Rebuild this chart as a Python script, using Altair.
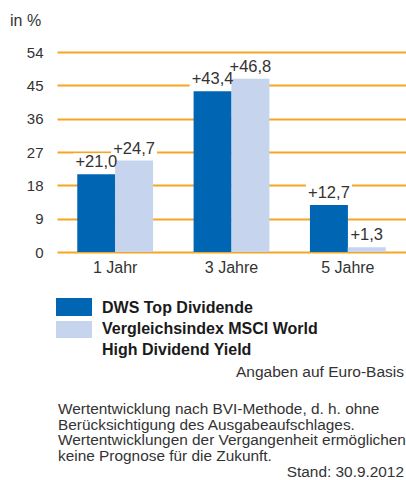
import altair as alt
import pandas as pd

periods = ["1 Jahr", "3 Jahre", "5 Jahre"]
series_names = ["DWS Top Dividende", "Vergleichsindex MSCI World High Dividend Yield"]
dws_values = [21.0, 43.4, 12.7]
msci_values = [24.7, 46.8, 1.3]
y_ticks = [0, 9, 18, 27, 36, 45, 54]
colors = ["#0066B3", "#C6D4EE"]

rows = []
for p, a, b in zip(periods, dws_values, msci_values):
    for s, v in zip(series_names, [a, b]):
        rows.append({"period": p, "series": s, "value": v,
                     "label": "+" + f"{v:.1f}".replace(".", ",")})
df = pd.DataFrame(rows)

FONT = "Liberation Sans"
TXT = "#333333"

x_enc = alt.X("period:N", sort=periods,
              scale=alt.Scale(paddingInner=0.35, paddingOuter=0.175),
              axis=alt.Axis(title=None, labelAngle=0, ticks=False, domain=False,
                            labelFontSize=16, labelFont=FONT, labelColor=TXT,
                            labelPadding=7, grid=False, gridOpacity=0))
xo_enc = alt.XOffset("series:N", sort=series_names,
                     scale=alt.Scale(paddingInner=0, paddingOuter=0))
y_enc = alt.Y("value:Q", scale=alt.Scale(domain=[0, 54], nice=False),
              axis=alt.Axis(title=None, values=y_ticks, ticks=False, domain=False,
                            labelFontSize=15, labelFont=FONT, labelColor=TXT,
                            labelPadding=14, grid=True, gridColor="#F5A623", gridWidth=2,
                            gridOpacity=1))
color_enc = alt.Color("series:N", sort=series_names,
                      scale=alt.Scale(domain=series_names, range=colors), legend=None)

base = alt.Chart(df)

bg = base.mark_bar(color="white", width=46, yOffset=-3, y2Offset=-21).encode(
    x=x_enc, xOffset=xo_enc, y=y_enc, y2="value:Q")
bars = base.mark_bar(size=38).encode(x=x_enc, xOffset=xo_enc, y=y_enc, color=color_enc)
labels = base.mark_text(baseline="bottom", dy=-4, fontSize=16.5, font=FONT, color=TXT).encode(
    x=x_enc, xOffset=xo_enc, y=y_enc, text="label:N")

anno = alt.Chart(pd.DataFrame({"a": [0]}))

unit = anno.mark_text(align="left", baseline="alphabetic", fontSize=16, font=FONT, color=TXT).encode(
    x=alt.value(-47), y=alt.value(-26), text=alt.value("in %"))

leg_rect1 = anno.mark_bar(color=colors[0]).encode(
    x=alt.value(-1), x2=alt.value(35), y=alt.value(246), y2=alt.value(264))
leg_rect2 = anno.mark_bar(color=colors[1]).encode(
    x=alt.value(-1), x2=alt.value(35), y=alt.value(269), y2=alt.value(286))
leg_text = anno.mark_text(align="left", baseline="alphabetic", fontSize=16, font=FONT,
                          fontWeight="bold", color="#1a1a1a", lineHeight=21).encode(
    x=alt.value(45), y=alt.value(261),
    text=alt.value(["DWS Top Dividende", "Vergleichsindex MSCI World", "High Dividend Yield"]))

euro = anno.mark_text(align="right", baseline="alphabetic", fontSize=15.5, font=FONT, color=TXT).encode(
    x=alt.value(347), y=alt.value(325), text=alt.value("Angaben auf Euro-Basis"))

foot = anno.mark_text(align="left", baseline="alphabetic", fontSize=15.4, font=FONT, color=TXT,
                      lineHeight=15.6).encode(
    x=alt.value(1), y=alt.value(362),
    text=alt.value(["Wertentwicklung nach BVI-Methode, d. h. ohne",
                    "Berücksichtigung des Ausgabeaufschlages.",
                    "Wertentwicklungen der Vergangenheit ermöglichen",
                    "keine Prognose für die Zukunft."]))

stand = anno.mark_text(align="right", baseline="alphabetic", fontSize=15.4, font=FONT, color=TXT).encode(
    x=alt.value(347), y=alt.value(425), text=alt.value("Stand: 30.9.2012"))

chart = alt.layer(bg, bars, labels, unit, leg_rect1, leg_rect2, leg_text, euro, foot, stand).properties(
    width=349, height=200, background="white",
    autosize=alt.AutoSizeParams(type="none"),
    padding={"left": 57, "top": 52, "right": 0, "bottom": 228},
).configure_view(stroke=None).configure_axisX(grid=False, gridOpacity=0)

chart.save("out.html", embed_options={"renderer": "svg", "actions": False})
